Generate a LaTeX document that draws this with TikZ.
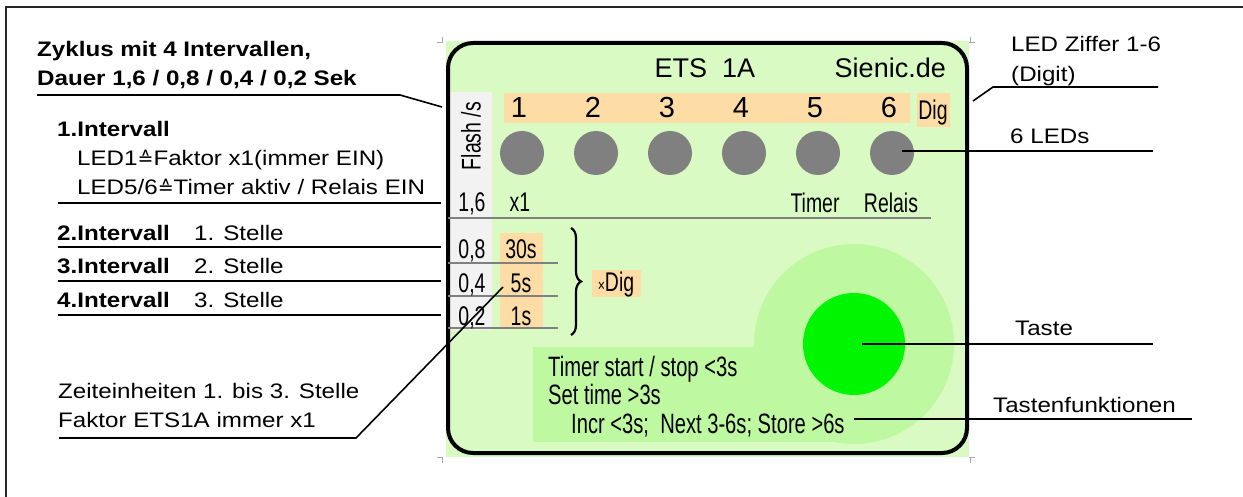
\documentclass[tikz,border=0pt]{standalone}
\usepackage{fontspec}
\setmainfont{Liberation Sans}
\newfontfamily\annot[FakeStretch=1.15]{Liberation Sans}
\newfontfamily\narrow[FakeStretch=0.72]{Liberation Sans}
\newfontfamily\devtop{Liberation Sans}
\newfontfamily\dejavu{DejaVu Sans}
\usetikzlibrary{decorations.pathreplacing,calc}
\definecolor{devgreen}{RGB}{218,250,196}
\definecolor{lightg}{RGB}{190,248,160}
\definecolor{btn}{RGB}{0,245,0}
\definecolor{peach}{RGB}{253,220,165}
\definecolor{colgrey}{RGB}{242,242,242}
\definecolor{ledgrey}{RGB}{128,128,128}
\definecolor{crop}{RGB}{170,170,170}
\tikzset{
  ann/.style={font=\annot\fontsize{21}{25}\selectfont, anchor=base west, inner sep=0pt},
  annb/.style={font=\annot\bfseries\fontsize{21}{25}\selectfont, anchor=base west, inner sep=0pt},
  devt/.style={font=\devtop\fontsize{27}{30}\selectfont, anchor=base, inner sep=0pt},
  digt/.style={font=\devtop\fontsize{29}{30}\selectfont, anchor=base, inner sep=0pt},
  nar/.style={font=\narrow\fontsize{27}{30}\selectfont, anchor=base, inner sep=0pt},
  narw/.style={font=\narrow\fontsize{28}{30}\selectfont, anchor=base west, inner sep=0pt},
  leader/.style={line width=1.6pt, black},
  gline/.style={line width=2pt, ledgrey},
  led/.style={circle, fill=ledgrey, minimum size=44pt, inner sep=0pt},
  cropmark/.style={line width=0.8pt, crop},
}
\begin{document}
\begin{tikzpicture}[x=1pt,y=-1pt]
\useasboundingbox (0,0) rectangle (1243,497);
% outer frame
\draw[line width=1.8pt, black!85] (6,497) -- (6,7) -- (1243,7);

% ---------- device ----------
\fill[devgreen] (446,41) rectangle (969,457);
\fill[colgrey] (450,92) rectangle (492,330);
\fill[peach] (504,93) rectangle (910,123);
\fill[peach] (917,93) rectangle (950,127);
\fill[peach] (500,233) rectangle (543,328);
\fill[peach] (592,270) rectangle (641,297);
\fill[lightg] (854,344) circle[radius=100pt];
\fill[lightg] (533,347) rectangle (854,442);
\node[circle, fill=btn, minimum size=102pt, inner sep=0pt] (btn) at (854,344) {};
\foreach \i in {1,...,6} {
  \node[led] (led\i) at ({522+74*(\i-1)},153) {};
  \node[digt] (dig\i) at ({519+74*(\i-1)},118) {\i};
}
\draw[line width=4pt, rounded corners=25pt] (448,43) rectangle (967,453);
% crop marks
\draw[cropmark] (437,42) -- (443,42) (442,37) -- (442,43);
\draw[cropmark] (969,42) -- (975,42) (970,37) -- (970,43);
\draw[cropmark] (437,457) -- (443,457) (442,457) -- (442,463);
\draw[cropmark] (969,457) -- (975,457) (970,457) -- (970,463);

\node[devt] (ets) at (705,78) {ETS\ \ 1A};
\node[devt, anchor=base east] (sienic) at (946,78) {Sienic.de};
\node[nar] (dig) at (933,120) {Dig};
\node[nar, rotate=90, anchor=center] (flash) at (471,136) {Flash /s};

\draw[gline] (448,218) -- (931,218);
\draw[gline] (448,263) -- (558,263);
\draw[gline] (448,296) -- (558,296);
\draw[gline] (448,328) -- (558,328);

\node[nar] (f16) at (472,212) {1,6};
\node[nar] (x1) at (520,212) {x1};
\node[nar] (timer) at (815,213) {Timer};
\node[nar] (relais) at (891,213) {Relais};
\node[nar] (f08) at (472,259) {0,8};
\node[nar] (s30) at (521,259) {30s};
\node[nar] (f04) at (472,292) {0,4};
\node[nar] (s5) at (521,292) {5s};
\node[nar] (f02) at (472,325) {0,2};
\node[nar] (s1) at (521,325) {1s};
\draw[line width=2.2pt, decorate, decoration={brace, amplitude=10pt}] (571,228) -- (571,335);
\node[nar] (xdig) at (616,291) {{\fontsize{17}{20}\selectfont ×}Dig};

\node[narw] (tf1) at (548,376) {Timer start / stop <3s};
\node[narw] (tf2) at (548,404) {Set time >3s};
\node[narw] (tf3) at (571,433) {Incr <3s;\ \ Next 3-6s; Store >6s};

% ---------- left annotations ----------
\node[annb] (zyk1) at (37,57) {Zyklus mit 4 Intervallen,};
\node[annb] (zyk2) at (37,86) {Dauer 1,6 / 0,8 / 0,4 / 0,2 Sek};
\coordinate (zA) at (37,95);
\coordinate (zB) at (400,95);
\coordinate (zC) at (442,107);
\draw[leader] (zA) -- (zB) -- (zC);

\node[annb] (int1) at (57,137) {1.Intervall};
\node[ann] (led1t) at (77,166) {LED1{\dejavu\fontsize{19}{22}\selectfont ≙}Faktor x1(immer EIN)};
\node[ann] (led56t) at (77,195) {LED5/6{\dejavu\fontsize{19}{22}\selectfont ≙}Timer aktiv / Relais EIN};
\coordinate (i1A) at (58,203);
\coordinate (i1B) at (441,203);
\draw[leader] (i1A) -- (i1B);

\node[annb] (int2) at (57,241) {2.Intervall};
\node[ann] (st1) at (194,241) {1. Stelle};
\coordinate (i2A) at (58,247);
\coordinate (i2B) at (441,247);
\draw[leader] (i2A) -- (i2B);

\node[annb] (int3) at (57,274) {3.Intervall};
\node[ann] (st2) at (194,274) {2. Stelle};
\coordinate (i3A) at (58,281);
\coordinate (i3B) at (441,281);
\draw[leader] (i3A) -- (i3B);

\node[annb] (int4) at (57,307) {4.Intervall};
\node[ann] (st3) at (194,307) {3. Stelle};
\coordinate (i4A) at (58,315);
\coordinate (i4B) at (441,315);
\draw[leader] (i4A) -- (i4B);

\node[ann] (zeit1) at (58,398) {Zeiteinheiten 1. bis 3. Stelle};
\node[ann] (zeit2) at (58,427) {Faktor ETS1A immer x1};
\coordinate (zeA) at (59,438);
\coordinate (zeB) at (356,438);
\coordinate (zeC) at (503,287);
\draw[leader] (zeA) -- (zeB) -- (zeC);

% ---------- right annotations ----------
\node[ann] (ziff1) at (1011,52) {LED Ziffer 1-6};
\node[ann] (ziff2) at (1011,82) {(Digit)};
\coordinate (dA) at (973,101);
\coordinate (dB) at (993,87);
\coordinate (dC) at (1158,87);
\draw[leader] (dA) -- (dB) -- (dC);

\node[ann] (leds) at (1010,144) {6 LEDs};
\coordinate (lA) at ($(led6.center)+(10,-2)$);
\coordinate (lB) at (1153,151);
\draw[leader] (lA) -- (lB);

\node[ann] (taste) at (1015,335) {Taste};
\coordinate (tA) at ($(btn.center)+(8,0)$);
\coordinate (tB) at (1153,344);
\draw[leader] (tA) -- (tB);

\node[ann] (tfk) at (993,412) {Tastenfunktionen};
\coordinate (fA) at ($(tf3.base east)+(9,-14)$);
\coordinate (fB) at (1192,419);
\draw[leader] (fA) -- (fB |- fA);
\end{tikzpicture}
\end{document}
